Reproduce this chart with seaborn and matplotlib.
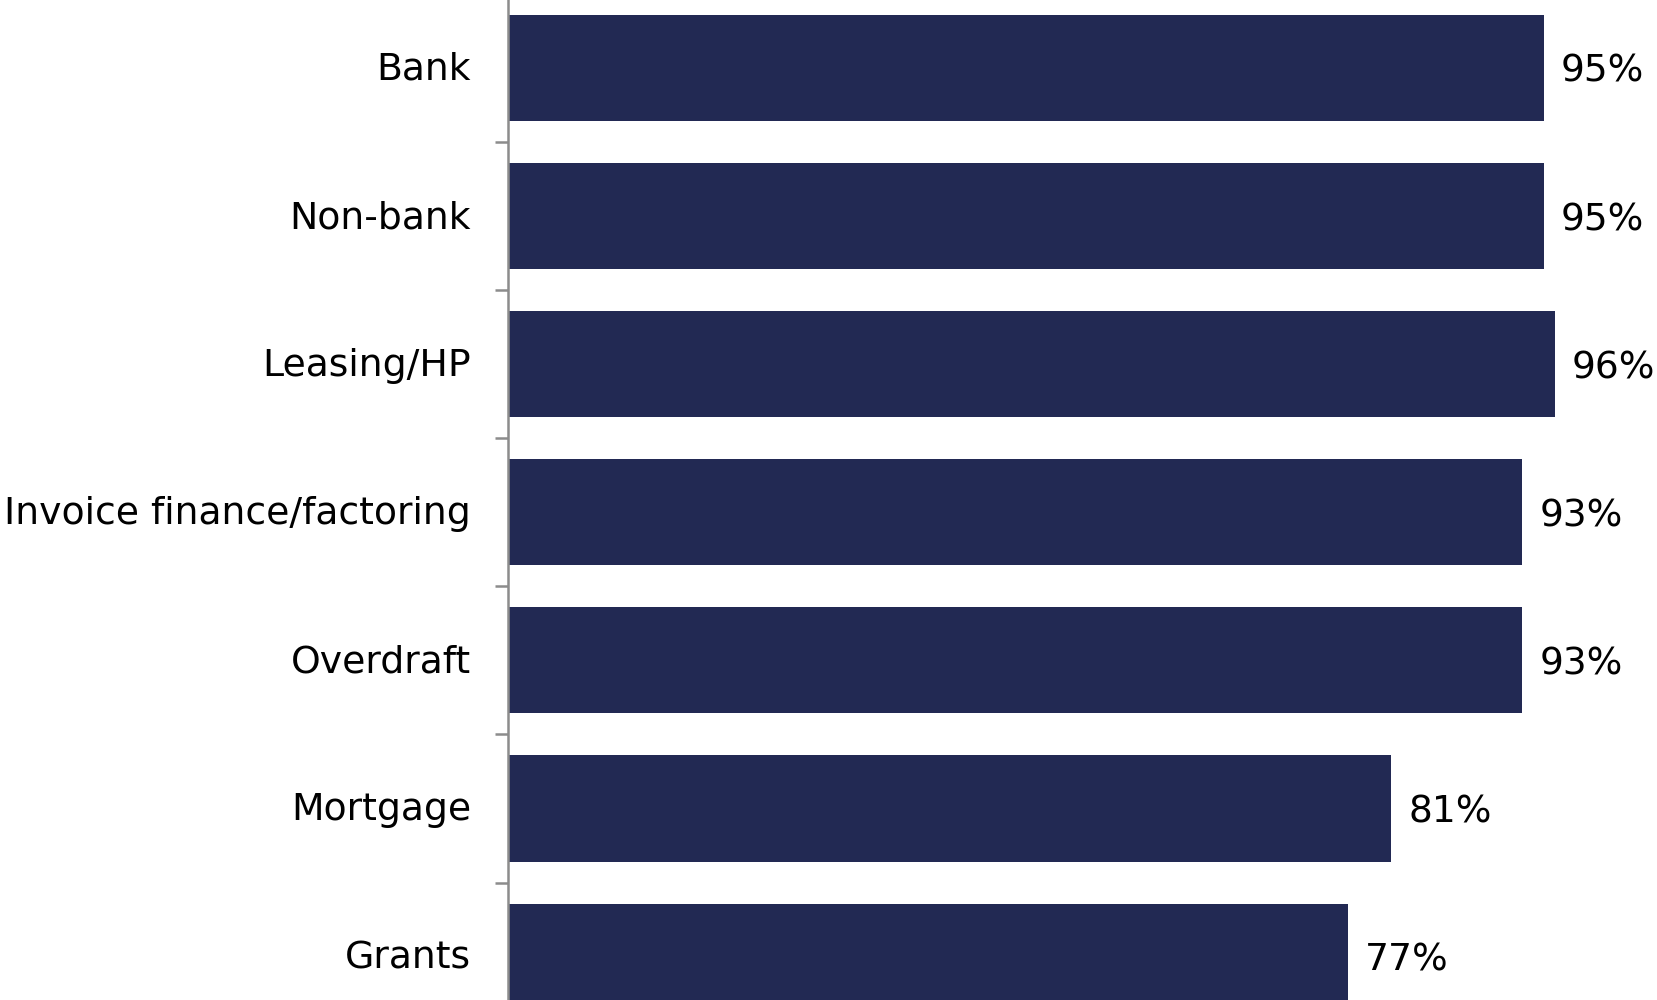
import matplotlib
matplotlib.use("Agg")
import matplotlib.pyplot as plt
import matplotlib.transforms as mtransforms
import seaborn as sns
import pandas as pd
from matplotlib.ticker import FixedLocator

categories = ["Bank", "Non-bank", "Leasing/HP", "Invoice finance/factoring",
              "Overdraft", "Mortgage", "Grants"]
values = [95, 95, 96, 93, 93, 81, 77]
value_labels = ["95%", "95%", "96%", "93%", "93%", "81%", "77%"]

sns.set_theme(style="white")
plt.rcParams["font.family"] = ["DejaVu Sans"]

df = pd.DataFrame({"category": categories, "value": values})

fig = plt.figure(figsize=(16.57, 10.0), dpi=100)
ax = fig.add_axes([508.5 / 1657, 0.0, 1 - 508.5 / 1657, 1.0])

sns.barplot(data=df, x="value", y="category", orient="h", color="#222953",
            saturation=1, width=0.716, edgecolor="#222953", linewidth=0, ax=ax)

ax.set_xlim(0, 105.4)
ax.set_ylim(6.293, -0.459)

texts = ax.bar_label(ax.containers[0], labels=value_labels, padding=12.5,
                     fontsize=27, color="black")
for t in texts:
    t.set_verticalalignment("center_baseline")

for side in ("top", "right", "bottom"):
    ax.spines[side].set_visible(False)
ax.spines["left"].set_color("#8c8c8c")
ax.spines["left"].set_linewidth(1.8)

ax.set_xticks([])
ax.set_xlabel("")
ax.set_ylabel("")
ax.tick_params(axis="y", which="major", length=0, pad=27, labelsize=27.2,
               labelcolor="black")
# nudge category labels up slightly
shift = mtransforms.ScaledTranslation(0, 1.5 / 72, fig.dpi_scale_trans)
for lbl in ax.get_yticklabels():
    lbl.set_transform(lbl.get_transform() + shift)
ax.yaxis.set_minor_locator(FixedLocator([i + 0.5 for i in range(len(categories) - 1)]))
ax.tick_params(axis="y", which="minor", length=9.4, width=1.8, color="#8c8c8c",
               direction="out", left=True)

fig.savefig("out.png", dpi=100)
